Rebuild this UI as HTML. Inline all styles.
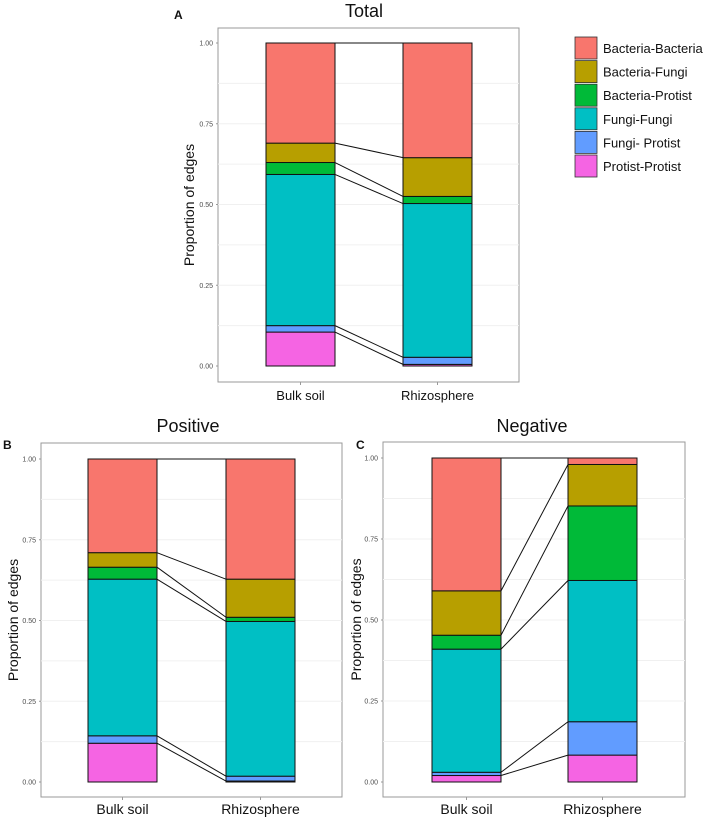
<!DOCTYPE html>
<html><head><meta charset="utf-8"><style>
body{margin:0;background:#fff;}
svg{display:block;font-family:"Liberation Sans",Arial,sans-serif;}
</style></head><body>
<svg id="s" width="708" height="821" xmlns="http://www.w3.org/2000/svg"></svg>
<script>
const categories=["Bulk soil","Rhizosphere"];
const series=["Protist-Protist","Fungi- Protist","Fungi-Fungi","Bacteria-Protist","Bacteria-Fungi","Bacteria-Bacteria"];
const colors=["#F564E3","#619CFF","#00BFC4","#00BA38","#B79F00","#F8766D"];
const yTicks=[0,0.25,0.5,0.75,1];
const yTickLabels=["0.00","0.25","0.50","0.75","1.00"];
const totalBulk=[0.105,0.02,0.468,0.037,0.06,0.31];
const totalRhizo=[0.005,0.022,0.476,0.022,0.12,0.355];
const posBulk=[0.12,0.023,0.485,0.037,0.045,0.29];
const posRhizo=[0.003,0.015,0.479,0.013,0.118,0.372];
const negBulk=[0.02,0.01,0.38,0.043,0.137,0.41];
const negRhizo=[0.083,0.103,0.436,0.23,0.128,0.02];
const legendOrder=["Bacteria-Bacteria","Bacteria-Fungi","Bacteria-Protist","Fungi-Fungi","Fungi- Protist","Protist-Protist"];
const legendColors=["#F8766D","#B79F00","#00BA38","#00BFC4","#619CFF","#F564E3"];

const S=document.getElementById('s');
const NS="http://www.w3.org/2000/svg";
function mk(tag,at,parent){const e=document.createElementNS(NS,tag);for(const k in at)e.setAttribute(k,at[k]);(parent||S).appendChild(e);return e;}

function panel(p){
  const g=mk('g',{});
  
  
  const y=v=>p.y0+(p.y1-p.y0)*v;
  const box=mk('rect',{x:p.bx0,y:p.by0,width:p.bx1-p.bx0,height:p.by1-p.by0,fill:'none',stroke:'#999','stroke-width':1},g);
  
  
  for(let v=0.125;v<1;v+=0.125){
    const gl=mk('line',{x1:p.bx0,x2:p.bx1,y1:y(v),y2:y(v),stroke:'#f0f0f0','stroke-width':1},g);
    
    
  }
  yTicks.forEach((t,i)=>{
    const tx=mk('text',{x:p.bx0-5,y:y(t)+2.5,'font-size':7,fill:'#4d4d4d','text-anchor':'end'},g);
    tx.textContent=yTickLabels[i];
    
    
    mk('line',{x1:p.bx0-2,x2:p.bx0,y1:y(t),y2:y(t),stroke:'#999'},g);
  });
  const bars=[p.a,p.b];const xs=[p.xa,p.xb];
  const cums=bars.map(arr=>{let c=0;return arr.map(v=>{const r=[c,c+v];c+=v;return r;});});
  cums.forEach((cum,bi)=>{
    cum.forEach((r,si)=>{
      const rc=mk('rect',{x:xs[bi],y:y(r[1]),width:p.w,height:y(r[0])-y(r[1]),fill:colors[si],stroke:'#111','stroke-width':1},g);
      
      
    });
    const cx=xs[bi]+p.w/2;
    mk('line',{x1:cx,x2:cx,y1:p.by1,y2:p.by1+3,stroke:'#999'},g);
    const xl=mk('text',{x:cx,y:p.by1+p.xlo,'font-size':p.xfs,fill:'#111','text-anchor':'middle'},g);
    xl.textContent=categories[bi];
    
    
  });
  for(let i=0;i<series.length;i++){
    const ln=mk('line',{x1:p.xa+p.w,y1:y(cums[0][i][1]),x2:p.xb,y2:y(cums[1][i][1]),stroke:'#111','stroke-width':1},g);
    
    
  }
  const my=(p.by0+p.by1)/2;
  const yl=mk('text',{x:p.ylx,y:my,'font-size':14,fill:'#111','text-anchor':'middle',transform:`rotate(-90 ${p.ylx} ${my})`},g);
  yl.textContent='Proportion of edges';
  
  
  const ti=mk('text',{x:p.tx,y:p.ty,'font-size':18,fill:'#111','text-anchor':'middle'},g);
  ti.textContent=p.title;
  
  
  const lt=mk('text',{x:p.lx,y:p.ly,'font-size':12,'font-weight':'bold',fill:'#111'},g);
  lt.textContent=p.letter;
  
  
}
panel({name:'panel-total',bx0:218,bx1:519,by0:28,by1:382,y0:366,y1:43,xa:266,xb:403,w:69,a:totalBulk,b:totalRhizo,ylx:194,tx:364,ty:17,title:'Total',lx:174,ly:19,letter:'A',xlo:18,xfs:13});
panel({name:'panel-positive',bx0:41,bx1:342,by0:443,by1:797,y0:782,y1:459,xa:88,xb:226,w:69,a:posBulk,b:posRhizo,ylx:18,tx:188,ty:432,title:'Positive',lx:3,ly:449,letter:'B',xlo:17,xfs:14});
panel({name:'panel-negative',bx0:383,bx1:685,by0:442,by1:797,y0:782,y1:458,xa:432,xb:568,w:69,a:negBulk,b:negRhizo,ylx:361,tx:532,ty:432,title:'Negative',lx:356,ly:449,letter:'C',xlo:17,xfs:14});

const lg=mk('g',{});


legendOrder.forEach((n,i)=>{
  const yy=37+i*23.6;
  const r=mk('rect',{x:575,y:yy,width:22,height:22,fill:legendColors[i],stroke:'#333','stroke-width':0.8},lg);
  
  
  const t=mk('text',{x:603,y:yy+16,'font-size':13,fill:'#111'},lg);
  t.textContent=n;
  
  
});
</script>
</body></html>
